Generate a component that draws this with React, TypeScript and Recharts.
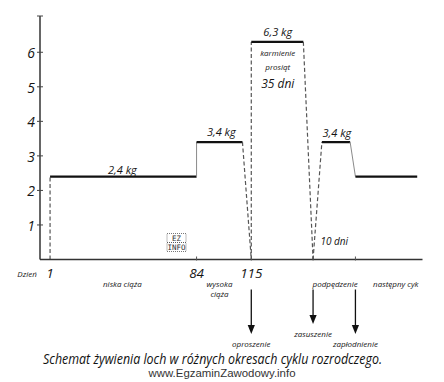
import React from 'react';
import { LineChart, Line, XAxis, YAxis, ReferenceDot } from 'recharts';

const FONT = '"Open Sans", "Noto Sans", sans-serif';

// Feeding path (day of cycle, kg of feed per day)
const pathDays = [1, 1, 84, 84, 110, 115, 115, 144.5, 150, 155, 171, 174, 209];
const pathKg = [0, 2.4, 2.4, 3.4, 3.4, 0, 6.3, 6.3, 0, 3.4, 3.4, 2.4, 2.4];
const segmentKinds = ['dash', 'bold', 'thin', 'bold', 'dash', 'dash', 'bold', 'dash', 'dash', 'bold', 'thin', 'bold'];

// Axes
const yTickValues = [1, 2, 3, 4, 5, 6];
const yAxisTop = 7.05;
const xDomainMin = -4.7;
const xDomainMax = 212;
const dayTickValues = [1, 84, 115];
const dayTickLabels = ['1', '84', '115'];
const dayAxisTitle = 'Dzień';
const minorTickDays = [84, 115, 150, 174];

// Periods under the axis
const periodDays = [42, 97, 162.5, 184];
const periodLabels = [['niska ciąża'], ['wysoka', 'ciąża'], ['podpędzenie'], ['następny cyk']];

// Events (arrows)
const eventDays = [115, 150, 174];
const eventLabels = ['oproszenie', 'zasuszenie', 'zapłodnienie'];

// Notes inside the plot
const noteTexts = ['2,4 kg', '3,4 kg', '6,3 kg', 'karmienie', 'prosiąt', '35 dni', '3,4 kg', '10 dni'];
const noteDays = [42, 98, 130, 130, 130, 130, 163.5, 162];
const noteKg = [2.62, 3.72, 6.61, 6.0, 5.6, 5.11, 3.69, 0.54];

const titleText = 'Schemat żywienia loch w różnych okresach cyklu rozrodczego.';
const sourceText = 'www.EgzaminZawodowy.info';

// ---- styles (kept apart from data) ----
const noteFontSizes = [11, 11, 11, 8, 8, 12, 11, 10];
const segmentStyle: Record<string, any> = {
  bold: { stroke: '#111', strokeWidth: 2.2 },
  thin: { stroke: '#8a8a8a', strokeWidth: 1 },
  dash: { stroke: '#555', strokeWidth: 1.2, strokeDasharray: '4 2.5' },
};
const eventArrowTips = [74.5, 64.5, 74.5];
const eventLabelOffsets = [84, 73.5, 84];

const segments = segmentKinds.map((kind, i) => ({
  kind,
  data: [
    { day: pathDays[i], kg: pathKg[i] },
    { day: pathDays[i + 1], kg: pathKg[i + 1] },
  ],
}));

const allXTicks = Array.from(
  new Set([...dayTickValues, ...minorTickDays, ...periodDays, ...eventDays])
).sort((a, b) => a - b);

const txt = (size: number, extra: any = {}) => ({
  fontSize: size,
  fontStyle: 'italic',
  fontFamily: FONT,
  fill: '#151515',
  textAnchor: 'middle',
  dominantBaseline: 'central',
  ...extra,
});

function XTick(props: any) {
  const { x, y, payload } = props;
  const v = payload.value;
  const els: any[] = [];
  if (minorTickDays.includes(v)) {
    els.push(<line key="tk" x1={x} x2={x} y1={y - 3} y2={y + 1} stroke="#555" strokeWidth={1} />);
  }
  const di = dayTickValues.indexOf(v);
  if (di >= 0) {
    els.push(
      <text key="dl" x={x} y={y + 13} {...txt(13.5)}>
        {dayTickLabels[di]}
      </text>
    );
    if (di === 0) {
      els.push(
        <text key="dz" x={x - 23} y={y + 13.5} {...txt(8)}>
          {dayAxisTitle}
        </text>
      );
    }
  }
  const pi = periodDays.indexOf(v);
  if (pi >= 0) {
    const last = pi === periodDays.length - 1;
    periodLabels[pi].forEach((line, k) => {
      els.push(
        <text key={'p' + k} x={x} y={y + 24 + k * 10} {...txt(8, last ? { textAnchor: 'start' } : {})}>
          {line}
        </text>
      );
    });
  }
  const ei = eventDays.indexOf(v);
  if (ei >= 0) {
    const top = y + 30;
    const tip = y + eventArrowTips[ei];
    els.push(<line key="al" x1={x} x2={x} y1={top} y2={tip - 7} stroke="#111" strokeWidth={1.3} />);
    els.push(
      <polygon key="ah" points={`${x - 3.6},${tip - 9} ${x + 3.6},${tip - 9} ${x},${tip}`} fill="#111" />
    );
    els.push(
      <text key="el" x={x} y={y + eventLabelOffsets[ei]} {...txt(8)}>
        {eventLabels[ei]}
      </text>
    );
  }
  return <g>{els}</g>;
}

function YTick(props: any) {
  const { x, y, payload } = props;
  const v = payload.value;
  const labeled = yTickValues.includes(v);
  return (
    <g>
      <line x1={x - 3} x2={x + 3} y1={y} y2={y} stroke="#444" strokeWidth={1} />
      {labeled && (
        <text x={x - 5} y={y + 0.5} {...txt(14, { textAnchor: 'end' })}>
          {v}
        </text>
      )}
    </g>
  );
}

export default function App() {
  return (
    <div style={{ position: 'absolute', left: 0, top: 0, width: 444, height: 382, background: '#fff' }}>
      <LineChart
        width={444}
        height={382}
        margin={{ top: 16, right: 21.5, left: 0, bottom: 92.5 }}
      >
        <XAxis
          dataKey="day"
          type="number"
          domain={[xDomainMin, xDomainMax]}
          allowDataOverflow
          ticks={allXTicks}
          interval={0}
          tick={<XTick />}
          tickLine={false}
          tickSize={0}
          tickMargin={0}
          height={30}
          axisLine={{ stroke: '#333', strokeWidth: 1.5 }}
        />
        <YAxis
          type="number"
          domain={[0, yAxisTop]}
          allowDataOverflow
          ticks={[...yTickValues, yAxisTop]}
          interval={0}
          tick={<YTick />}
          tickLine={false}
          tickSize={0}
          tickMargin={0}
          width={40}
          axisLine={{ stroke: '#333', strokeWidth: 1.5 }}
        />
        {segments.map((s, i) => (
          <Line
            key={i}
            data={s.data}
            dataKey="kg"
            type="linear"
            dot={false}
            activeDot={false}
            isAnimationActive={false}
            {...segmentStyle[s.kind]}
          />
        ))}
        {noteTexts.map((t, i) => (
          <ReferenceDot
            key={'n' + i}
            x={noteDays[i]}
            y={noteKg[i]}
            r={0}
            ifOverflow="visible"
            shape={(p: any) => (
              <text x={p.cx} y={p.cy} {...txt(noteFontSizes[i])}>
                {t}
              </text>
            )}
          />
        ))}
      </LineChart>
      <svg width={444} height={382} style={{ position: 'absolute', left: 0, top: 0, pointerEvents: 'none' }}>
        <g fontFamily="'DejaVu Sans Mono', monospace" fontSize={7.5} fill="#333">
          <rect x={167} y={233.5} width={19} height={9} fill="none" stroke="#555" strokeWidth={0.8} strokeDasharray="1 1" />
          <text x={176.5} y={238.5} textAnchor="middle" dominantBaseline="central">EZ</text>
          <rect x={167} y={242.5} width={19} height={9} fill="none" stroke="#555" strokeWidth={0.8} strokeDasharray="1 1" />
          <text x={176.5} y={247.5} textAnchor="middle" dominantBaseline="central">INFO</text>
        </g>
        <text
          x={212.5}
          y={358}
          textAnchor="middle"
          dominantBaseline="central"
          fontSize={14}
          fontStyle="italic"
          fontFamily={FONT}
          fill="#111"
          textLength={339}
          lengthAdjust="spacingAndGlyphs"
        >
          {titleText}
        </text>
        <text
          x={222}
          y={373}
          textAnchor="middle"
          dominantBaseline="central"
          fontSize={11}
          fontFamily="'Liberation Sans', Arial, sans-serif"
          fill="#333"
          textLength={147}
          lengthAdjust="spacingAndGlyphs"
        >
          {sourceText}
        </text>
      </svg>
    </div>
  );
}
